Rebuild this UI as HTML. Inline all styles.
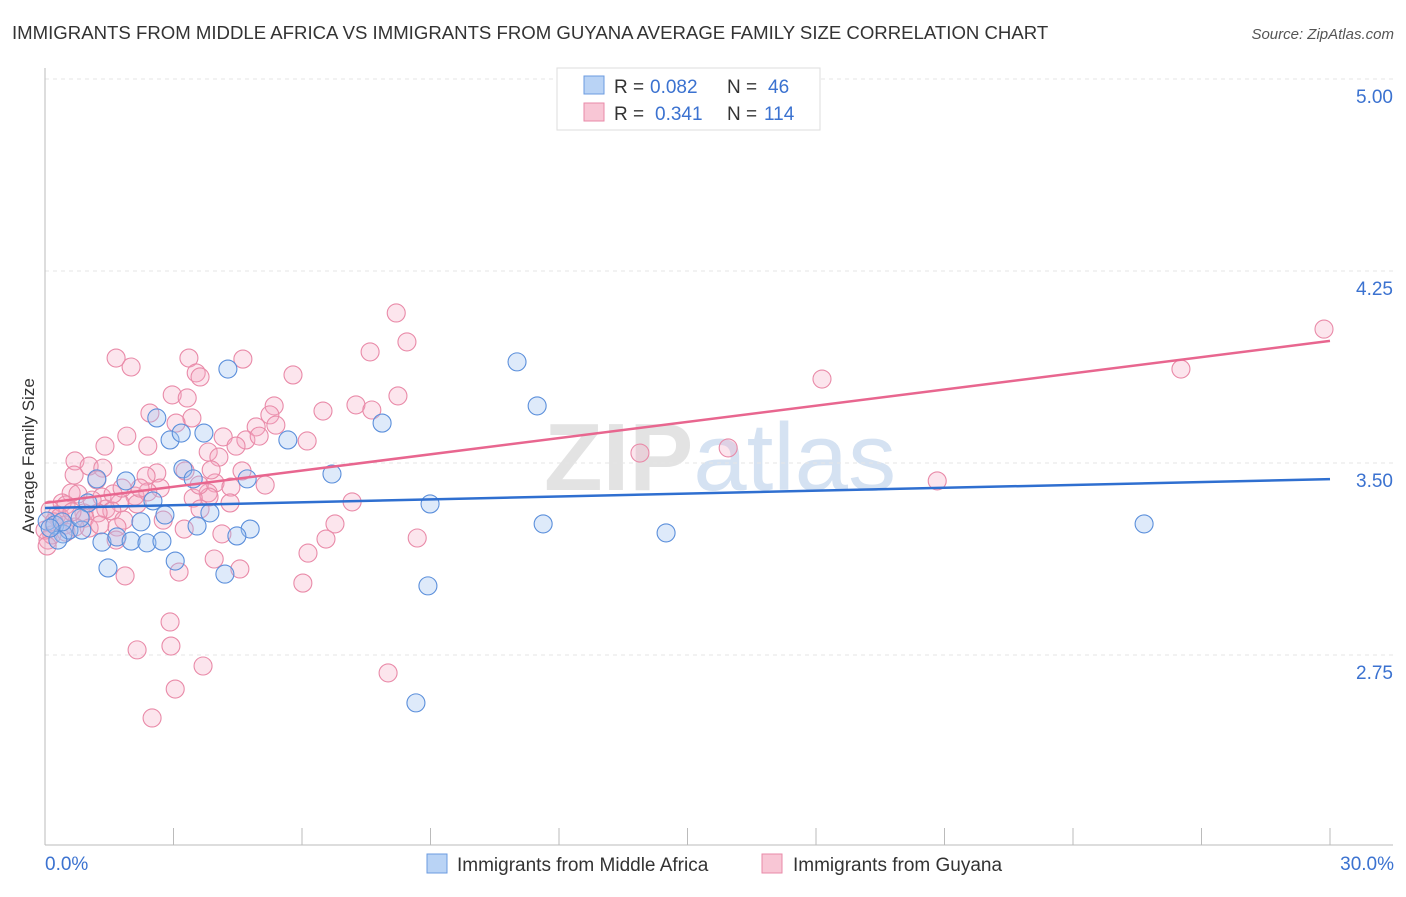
<!DOCTYPE html>
<html><head><meta charset="utf-8">
<style>
body{margin:0;background:#fff;font-family:"Liberation Sans",sans-serif;}
svg text{font-family:"Liberation Sans",sans-serif;}
</style></head>
<body>
<svg id="chart" width="1406" height="892" xmlns="http://www.w3.org/2000/svg">
<text x="12" y="39" font-size="18.6" fill="#333">IMMIGRANTS FROM MIDDLE AFRICA VS IMMIGRANTS FROM GUYANA AVERAGE FAMILY SIZE CORRELATION CHART</text>
<text x="1394" y="39" font-size="15" fill="#555" text-anchor="end" font-style="italic">Source: ZipAtlas.com</text>
<text x="720" y="490" font-size="96" fill="#e3e3e3" text-anchor="middle" font-family="Liberation Serif" font-weight="bold">ZIP<tspan fill="#d5e2f2" font-family="Liberation Sans" font-weight="normal">atlas</tspan></text>
<g id="grid"></g>
<g id="axes"></g>
<g id="pinkpts"></g>
<g id="bluepts"></g>
<g id="lines"></g>
<text transform="translate(34,456) rotate(-90)" font-size="17" fill="#333" text-anchor="middle">Average Family Size</text>
<g>
<rect x="557" y="68" width="263" height="62" fill="#fff" stroke="#ddd"/>
<rect x="584" y="76" width="20" height="18" fill="#b9d3f5" stroke="#6b9be0"/>
<text y="93" font-size="19" fill="#333"><tspan x="614">R =</tspan><tspan x="650" fill="#3b72d0">0.082</tspan><tspan x="727">N =</tspan><tspan x="768" fill="#3b72d0">46</tspan></text>
<rect x="584" y="103" width="20" height="18" fill="#f8c6d5" stroke="#e98aa8"/>
<text y="120" font-size="19" fill="#333"><tspan x="614">R =</tspan><tspan x="655" fill="#3b72d0">0.341</tspan><tspan x="727">N =</tspan><tspan x="764" fill="#3b72d0">114</tspan></text>
</g>
<g>
<rect x="427" y="854" width="20" height="19" fill="#b9d3f5" stroke="#6b9be0"/>
<text x="457" y="871" font-size="19" fill="#333">Immigrants from Middle Africa</text>
<rect x="762" y="854" width="20" height="19" fill="#f8c6d5" stroke="#e98aa8"/>
<text x="793" y="871" font-size="19" fill="#333">Immigrants from Guyana</text>
</g>
</svg>
<script>
const yTicks=[5.00,4.25,3.50,2.75];
const xTickLabels=["0.0%","30.0%"];
const blueX=[11.02,11.49,7.87,4.27,2.61,2.92,3.18,3.71,5.67,6.70,3.22,3.46,4.72,1.89,2.52,1.21,1.00,3.85,2.80,2.24,3.55,4.79,4.48,8.99,11.63,14.50,25.66,0.05,0.23,0.42,0.56,0.86,1.33,1.68,2.01,2.38,2.73,3.04,1.47,4.20,8.94,8.66,0.30,0.82,0.40,0.12];
const blueY=[3.895,3.723,3.656,3.867,3.676,3.590,3.617,3.617,3.590,3.457,3.477,3.438,3.438,3.430,3.352,3.438,3.344,3.305,3.297,3.270,3.254,3.242,3.215,3.340,3.262,3.227,3.262,3.273,3.258,3.223,3.238,3.238,3.191,3.211,3.195,3.188,3.195,3.117,3.090,3.066,3.020,2.563,3.199,3.285,3.270,3.246];
const pinkX=[8.20,8.45,7.59,4.62,3.36,1.66,2.01,3.53,3.62,5.79,2.97,3.32,8.24,7.26,6.49,5.35,2.45,3.43,5.25,7.63,3.06,4.93,5.39,1.91,4.16,4.69,5.00,6.12,2.40,1.40,3.81,4.06,4.46,15.95,13.89,18.14,26.52,29.86,20.83,0.70,0.68,1.03,1.35,1.21,2.61,2.36,3.27,4.60,3.97,5.14,2.10,0.61,0.77,0.40,0.49,1.33,1.75,1.42,0.91,1.56,2.15,2.69,2.40,3.81,3.83,4.34,3.46,2.76,1.84,1.24,0.93,0.28,1.68,1.03,0.70,0.07,0.16,0.47,1.66,3.25,4.13,7.17,6.77,6.56,6.14,8.69,3.95,4.55,3.13,1.87,6.02,2.92,2.94,2.15,3.69,3.04,8.01,2.50,0.12,0.00,0.35,0.63,1.10,1.59,2.22,3.62,4.32,1.28,0.21,0.05,0.49,1.80,3.60,3.88];
const pinkY=[4.086,3.973,3.934,3.906,3.910,3.910,3.875,3.852,3.836,3.844,3.766,3.754,3.762,3.727,3.703,3.723,3.695,3.676,3.688,3.707,3.656,3.641,3.648,3.605,3.602,3.590,3.605,3.586,3.566,3.566,3.543,3.523,3.566,3.559,3.539,3.828,3.867,4.023,3.430,3.508,3.453,3.488,3.480,3.434,3.461,3.449,3.469,3.469,3.422,3.414,3.371,3.383,3.379,3.344,3.336,3.367,3.344,3.320,3.305,3.313,3.340,3.402,3.387,3.383,3.367,3.406,3.363,3.277,3.277,3.305,3.285,3.297,3.250,3.246,3.250,3.199,3.219,3.258,3.199,3.242,3.223,3.348,3.262,3.203,3.148,3.207,3.125,3.086,3.074,3.059,3.031,2.879,2.785,2.770,2.707,2.617,2.680,2.504,3.316,3.238,3.289,3.309,3.355,3.379,3.402,3.320,3.344,3.258,3.270,3.176,3.230,3.402,3.414,3.473];
const blueTrend=[3.324,3.437];
const pinkTrend=[3.344,3.977];

const NS="http://www.w3.org/2000/svg";
const xs=v=>45+(v/30)*1285;
const ys=v=>79+(5-v)*256;
function mk(tag,attrs,parent){const e=document.createElementNS(NS,tag);for(const k in attrs)e.setAttribute(k,attrs[k]);document.getElementById(parent).appendChild(e);return e;}

yTicks.forEach((t,i)=>{
  const g=mk('line',{x1:45,x2:1393,y1:ys(t),y2:ys(t),stroke:'#e6e6e6','stroke-dasharray':'4,4'},'grid');
  
  
  const tx=mk('text',{x:1393,y:ys(t)+24,'font-size':19,fill:'#3b72d0','text-anchor':'end'},'grid');
  tx.textContent=t.toFixed(2);
  
  
});
const ax=mk('line',{x1:45,x2:1393,y1:845,y2:845,stroke:'#bbb'},'axes');


const ay=mk('line',{x1:45,x2:45,y1:68,y2:845,stroke:'#bbb'},'axes');


for(let i=0;i<=10;i++){
  const v=i*3;
  const tk=mk('line',{x1:xs(v),x2:xs(v),y1:828,y2:845,stroke:'#bbb'},'axes');
  
  
}
[[0,'start',45],[30,'end',1394]].forEach((p,i)=>{
  const t=mk('text',{x:p[2],y:870,'font-size':19,fill:'#3b72d0','text-anchor':p[1]},'axes');
  t.textContent=xTickLabels[i];
  
  
});
pinkX.forEach((x,i)=>{
  const c=mk('circle',{cx:xs(x),cy:ys(pinkY[i]),r:9,fill:'rgba(244,170,195,0.3)',stroke:'#e98aa8','stroke-width':1.1},'pinkpts');
  
  
});
blueX.forEach((x,i)=>{
  const c=mk('circle',{cx:xs(x),cy:ys(blueY[i]),r:9,fill:'rgba(160,196,240,0.35)',stroke:'#5b8fdb','stroke-width':1.1},'bluepts');
  
  
});
const pl=mk('line',{x1:xs(0),y1:ys(pinkTrend[0]),x2:xs(30),y2:ys(pinkTrend[1]),stroke:'#e8668f','stroke-width':2.5},'lines');


const bl=mk('line',{x1:xs(0),y1:ys(blueTrend[0]),x2:xs(30),y2:ys(blueTrend[1]),stroke:'#2f6fd0','stroke-width':2.5},'lines');


</script>
</body></html>
